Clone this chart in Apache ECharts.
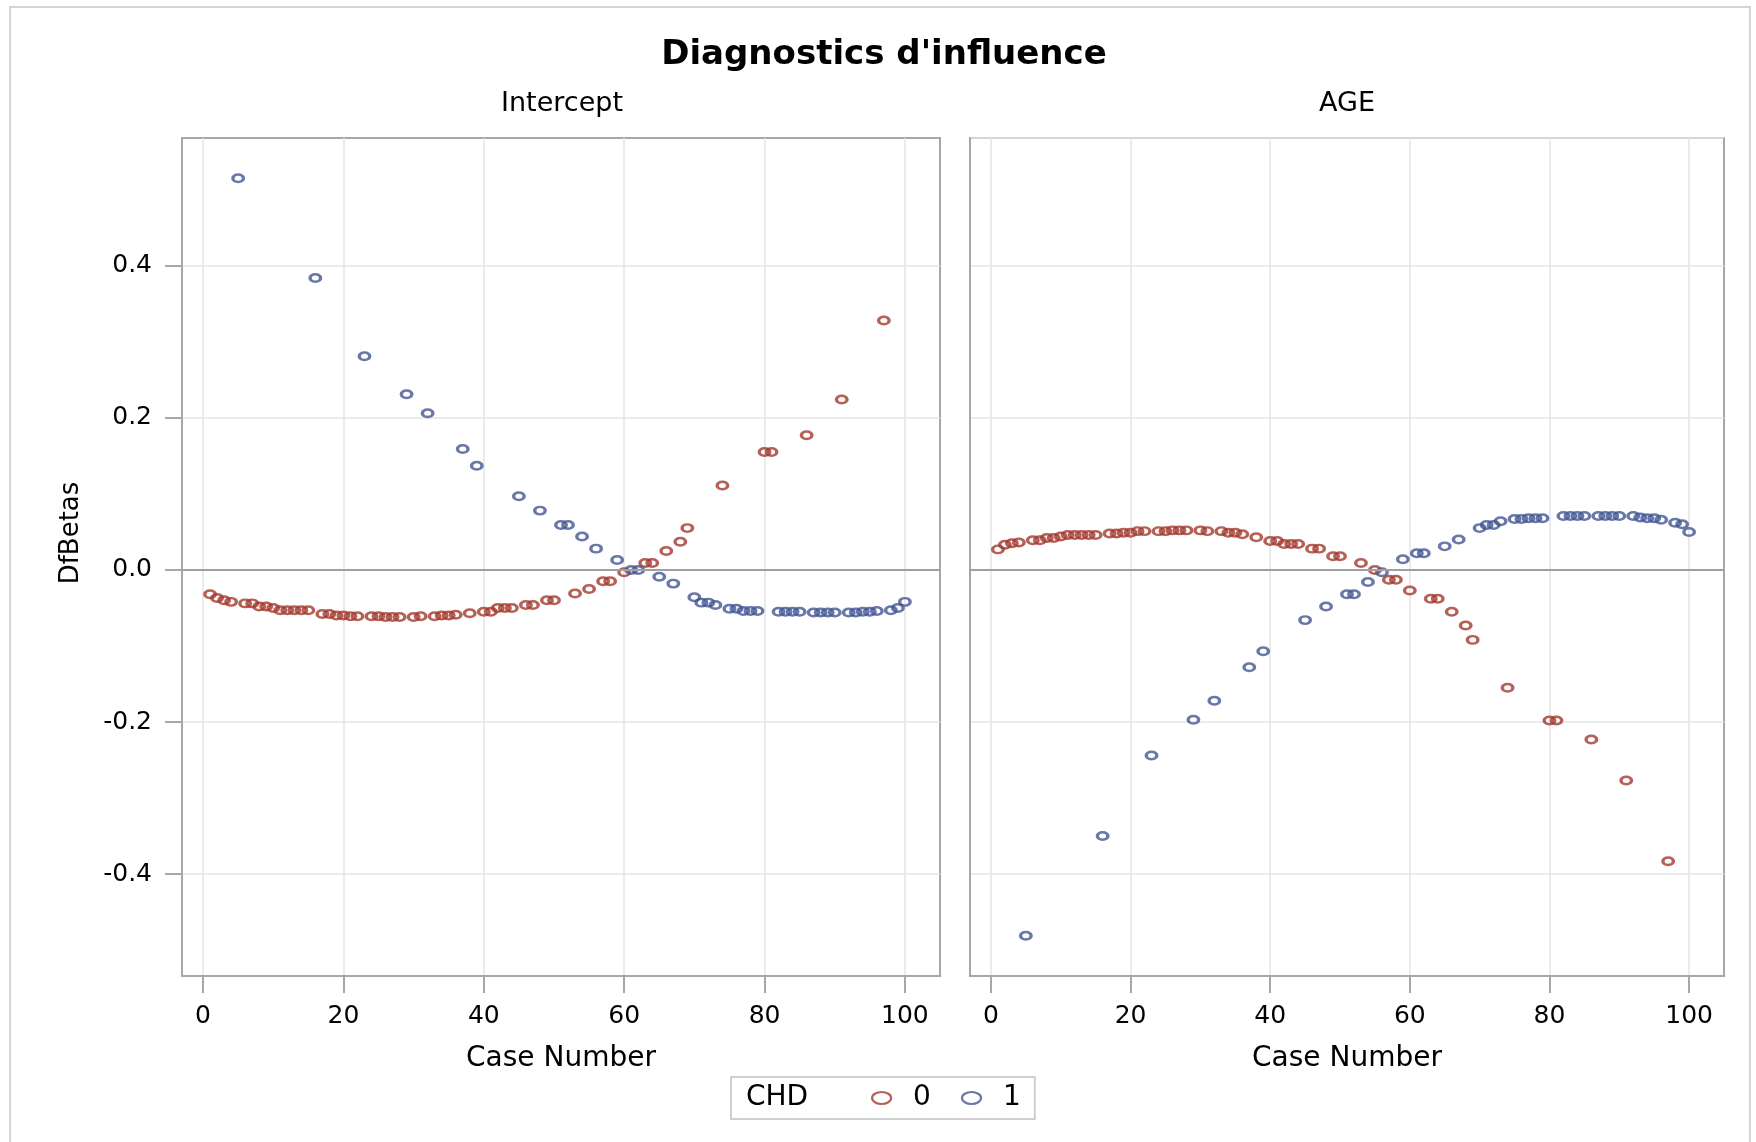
<!DOCTYPE html>
<html>
<head>
<meta charset="utf-8">
<title>Diagnostics d'influence</title>
<script src="https://cdn.jsdelivr.net/npm/echarts@6/dist/echarts.min.js"></script>
<style>
html, body { margin: 0; padding: 0; background: #fff; }
#chart { width: 1756px; height: 1142px; }
</style>
</head>
<body>
<div id="chart"></div>
<script>
// observations with CHD = 0
var casesChd0 = [1, 2, 3, 4, 6, 7, 8, 9, 10, 11, 12, 13, 14, 15, 17, 18, 19, 20, 21, 22,
    24, 25, 26, 27, 28, 30, 31, 33, 34, 35, 36, 38, 40, 41, 42, 43, 44, 46, 47, 49,
    50, 53, 55, 57, 58, 60, 63, 64, 66, 68, 69, 74, 80, 81, 86, 91, 97];
var interceptChd0 = [-0.032, -0.037, -0.040, -0.042, -0.044, -0.044, -0.048, -0.048, -0.050, -0.053,
    -0.053, -0.053, -0.053, -0.053, -0.058, -0.058, -0.060, -0.060, -0.061, -0.061,
    -0.061, -0.061, -0.062, -0.062, -0.062, -0.062, -0.061, -0.061, -0.060, -0.060,
    -0.059, -0.057, -0.055, -0.055, -0.050, -0.050, -0.050, -0.046, -0.046, -0.040,
    -0.040, -0.031, -0.025, -0.015, -0.015, -0.003, 0.009, 0.009, 0.025, 0.037,
    0.055, 0.111, 0.155, 0.155, 0.177, 0.224, 0.328];
var ageChd0 = [0.027, 0.033, 0.035, 0.036, 0.039, 0.039, 0.042, 0.042, 0.044, 0.046,
    0.046, 0.046, 0.046, 0.046, 0.048, 0.048, 0.049, 0.049, 0.051, 0.051,
    0.051, 0.051, 0.052, 0.052, 0.052, 0.052, 0.051, 0.051, 0.049, 0.049,
    0.047, 0.043, 0.038, 0.038, 0.034, 0.034, 0.034, 0.028, 0.028, 0.018,
    0.018, 0.009, 0.000, -0.013, -0.013, -0.027, -0.038, -0.038, -0.055, -0.073,
    -0.092, -0.155, -0.198, -0.198, -0.223, -0.277, -0.383];

// observations with CHD = 1
var casesChd1 = [5, 16, 23, 29, 32, 37, 39, 45, 48, 51, 52, 54, 56, 59, 61, 62, 65, 67, 70, 71,
    72, 73, 75, 76, 77, 78, 79, 82, 83, 84, 85, 87, 88, 89, 90, 92, 93, 94, 95, 96,
    98, 99, 100];
var interceptChd1 = [0.515, 0.384, 0.281, 0.231, 0.206, 0.159, 0.137, 0.097, 0.078, 0.059,
    0.059, 0.044, 0.028, 0.013, 0.000, 0.000, -0.009, -0.018, -0.036, -0.043,
    -0.043, -0.046, -0.051, -0.051, -0.054, -0.054, -0.054, -0.055, -0.055, -0.055,
    -0.055, -0.056, -0.056, -0.056, -0.056, -0.056, -0.056, -0.055, -0.055, -0.054,
    -0.053, -0.050, -0.042];
var ageChd1 = [-0.481, -0.350, -0.244, -0.197, -0.172, -0.128, -0.107, -0.066, -0.048, -0.032,
    -0.032, -0.016, -0.003, 0.014, 0.022, 0.022, 0.031, 0.040, 0.055, 0.059,
    0.059, 0.064, 0.067, 0.067, 0.068, 0.068, 0.068, 0.071, 0.071, 0.071,
    0.071, 0.071, 0.071, 0.071, 0.071, 0.071, 0.069, 0.068, 0.068, 0.066,
    0.062, 0.060, 0.050];

var xTicks = [0, 20, 40, 60, 80, 100];
var yTicks = [-0.4, -0.2, 0, 0.2, 0.4];
var panelNames = ['Intercept', 'AGE'];

var red = '#A23A2E';
var blue = '#445694';
var frameColor = '#a3a8ab';
var gridColor = '#e4e4e4';
var font = 'DejaVu Sans';
var ellipse = 'path://M0,5a5,5 0 1,0 10,0a5,5 0 1,0 -10,0z';

function pairs(xs, ys) {
    return xs.map(function (x, i) { return [x, ys[i]]; });
}

var myChart = echarts.init(document.getElementById('chart'));

function xAxisFor(idx) {
    return {
        gridIndex: idx, type: 'value', min: -3, max: 105,
        axisLine: { show: true, onZero: false, lineStyle: { color: frameColor, width: 2 } },
        axisTick: { show: true, length: 17, customValues: xTicks, lineStyle: { color: frameColor, width: 2 } },
        axisLabel: { customValues: xTicks, margin: 28, fontSize: 25, color: '#000', fontFamily: font },
        splitLine: { show: true, lineStyle: { color: gridColor, width: 1.5 } }
    };
}

function scatter(name, idx, data, color, withRef) {
    var s = {
        name: name, type: 'scatter', xAxisIndex: idx, yAxisIndex: idx,
        symbol: ellipse, symbolSize: [10.5, 7.5],
        itemStyle: { color: 'transparent', borderColor: color, borderWidth: 2.9 },
        data: data
    };
    if (withRef) {
        s.markLine = {
            silent: true, symbol: 'none', label: { show: false },
            lineStyle: { color: '#a0a0a0', width: 2, type: 'solid' },
            data: [{ yAxis: 0 }]
        };
    }
    return s;
}

var option = {
    animation: false,
    backgroundColor: '#fff',
    grid: [
        { left: 182, top: 138, width: 758, height: 838, show: true, borderColor: frameColor, borderWidth: 2 },
        { left: 970, top: 138, width: 754, height: 838, show: true, borderColor: frameColor, borderWidth: 2 }
    ],
    xAxis: [xAxisFor(0), xAxisFor(1)],
    yAxis: [
        {
            gridIndex: 0, type: 'value', min: -0.534, max: 0.568,
            axisLine: { show: true, onZero: false, lineStyle: { color: frameColor, width: 2 } },
            axisTick: { show: true, length: 17, customValues: yTicks, lineStyle: { color: frameColor, width: 2 } },
            axisLabel: {
                customValues: yTicks, margin: 30, fontSize: 25, color: '#000', fontFamily: font,
                formatter: function (v) { return v.toFixed(1); }
            },
            splitLine: { show: true, lineStyle: { color: gridColor, width: 1.5 } }
        },
        {
            gridIndex: 1, type: 'value', min: -0.534, max: 0.568,
            axisLine: { show: true, onZero: false, lineStyle: { color: frameColor, width: 2 } },
            axisTick: { show: false },
            axisLabel: { show: false },
            splitLine: { show: true, lineStyle: { color: gridColor, width: 1.5 } }
        }
    ],
    legend: {
        left: 731, top: 1077,
        padding: [7, 14, 7, 140],
        borderColor: '#cfcfcf', borderWidth: 2,
        itemWidth: 19, itemHeight: 12, itemGap: 30,
        icon: ellipse, symbolKeepAspect: false,
        itemStyle: { color: 'transparent', borderWidth: 2.2 },
        textStyle: { fontFamily: font, fontSize: 28, color: '#000', padding: [0, 0, 0, 17] },
        data: [
            { name: '0', itemStyle: { color: 'transparent', borderColor: red, borderWidth: 2.2 } },
            { name: '1', itemStyle: { color: 'transparent', borderColor: blue, borderWidth: 2.2 } }
        ]
    },
    graphic: [
        { type: 'rect', silent: true, z: -10, shape: { x: 10, y: 7, width: 1740, height: 1200 },
          style: { fill: 'none', stroke: '#d4d4d4', lineWidth: 2 } },
        { type: 'text', x: 884, y: 55, style: { text: "Diagnostics d'influence", font: 'bold 34px "DejaVu Sans"', fill: '#000', align: 'center', verticalAlign: 'middle' } },
        { type: 'text', x: 562, y: 104, style: { text: panelNames[0], font: '27px "DejaVu Sans"', fill: '#000', align: 'center', verticalAlign: 'middle' } },
        { type: 'text', x: 1347, y: 104, style: { text: panelNames[1], font: '27px "DejaVu Sans"', fill: '#000', align: 'center', verticalAlign: 'middle' } },
        { type: 'text', x: 561, y: 1059, style: { text: 'Case Number', font: '28px "DejaVu Sans"', fill: '#000', align: 'center', verticalAlign: 'middle' } },
        { type: 'text', x: 1347, y: 1059, style: { text: 'Case Number', font: '28px "DejaVu Sans"', fill: '#000', align: 'center', verticalAlign: 'middle' } },
        { type: 'text', x: 71, y: 533, rotation: Math.PI / 2, style: { text: 'DfBetas', font: '26px "DejaVu Sans"', fill: '#000', align: 'center', verticalAlign: 'middle' } },
        { type: 'text', x: 746, y: 1098, style: { text: 'CHD', font: '28px "DejaVu Sans"', fill: '#000', align: 'left', verticalAlign: 'middle' } }
    ],
    series: [
        scatter('0', 0, pairs(casesChd0, interceptChd0), red, true),
        scatter('1', 0, pairs(casesChd1, interceptChd1), blue, false),
        scatter('0', 1, pairs(casesChd0, ageChd0), red, true),
        scatter('1', 1, pairs(casesChd1, ageChd1), blue, false)
    ]
};

myChart.setOption(option);
</script>
</body>
</html>
